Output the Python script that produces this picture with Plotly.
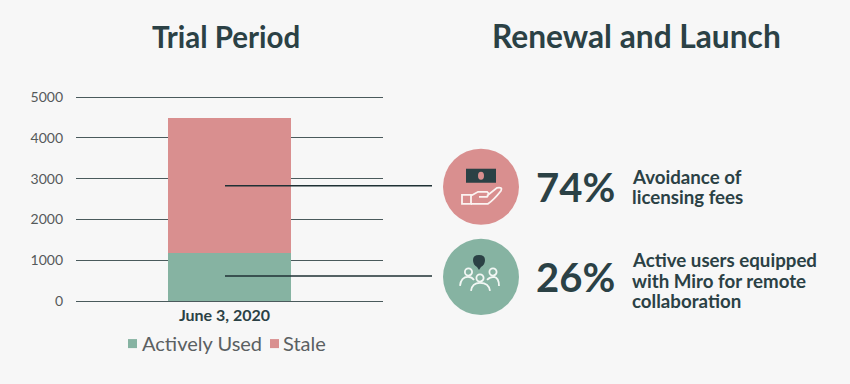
import plotly.graph_objects as go

categories = ["<b>June 3, 2020</b>"]
actively_used = [1180]
stale = [3300]
tick_values = [0, 1000, 2000, 3000, 4000, 5000]
AXIS_TOP = 5100

W, H = 850, 384
L, R, B = 76, 383, 301
T = B - 203.5 * AXIS_TOP / 5000
DARK = "#2b4145"
GREEN = "#86b3a2"
RED = "#d98f8f"
BG = "#f7f7f7"
FONT = "Lato"

def px(x):
    return (x - L) / (R - L)

def py(y):
    return (B - y) / (B - T)

def path(cmds):
    out = []
    for c in cmds:
        if len(c) == 1:
            out.append(c[0])
        else:
            vals = list(c[1:])
            pts = []
            for i in range(0, len(vals), 2):
                pts.append(f"{px(vals[i]):.5f},{py(vals[i + 1]):.5f}")
            out.append(c[0] + " ".join(pts))
    return " ".join(out)

shapes = []

def add(kind, x0, y0, x1, y1, fill=None, line=None, width=0):
    shapes.append(dict(type=kind, xref="paper", yref="paper", layer="above",
                       x0=px(x0), x1=px(x1), y0=py(y0), y1=py(y1),
                       fillcolor=fill, line=dict(color=line, width=width)))

def add_path(cmds, fill=None, line=None, width=1.8):
    shapes.append(dict(type="path", xref="paper", yref="paper", layer="above",
                       path=path(cmds), fillcolor=fill or "rgba(0,0,0,0)",
                       line=dict(color=line or "rgba(0,0,0,0)", width=width)))

# leader lines
add("line", 225, 186, 432, 186, line="#1f3135", width=1.5)
add("line", 225, 276, 432, 276, line="#1f3135", width=1.5)

# circles
add("circle", 443, 149, 519, 225, fill=RED)
add("circle", 443, 239, 519, 315, fill=GREEN)

# banknote + hand icon
add("rect", 466, 169, 496, 183, fill=DARK)
add("circle", 478, 172, 484, 180, fill=RED)
WHITE = "#fbf4f2"
add("rect", 462, 195, 471, 204, line=WHITE, width=1.8)
add_path([("M", 471, 196), ("L", 478, 192), ("L", 487, 192), ("Q", 490, 194, 487, 197),
          ("L", 479, 197), ("M", 487, 196), ("L", 497, 188), ("Q", 503, 187, 501, 191),
          ("Q", 494, 200, 488, 204), ("L", 471, 204)], line=WHITE)

# people icon
add_path([("M", 473, 260), ("Q", 473, 255, 479, 255), ("Q", 485, 255, 485, 260),
          ("Q", 485, 265, 481, 267), ("L", 479, 270), ("L", 477, 267),
          ("Q", 473, 265, 473, 260), ("Z",)], fill=DARK)
WL = "#f2f7f4"
for cx, cy, r in [(468.5, 272, 3.6), (480, 278, 3.6), (493, 272, 3.6)]:
    add("circle", cx - r, cy - r, cx + r, cy + r, line=WL, width=1.8)
add_path([("M", 460, 286), ("Q", 461, 277, 468, 277), ("Q", 472, 277, 474, 280)], line=WL)
add_path([("M", 487, 280), ("Q", 490, 277, 494, 277), ("Q", 499, 278, 499, 286)], line=WL)
add_path([("M", 471, 291), ("Q", 472, 283, 480, 283), ("Q", 489, 283, 490, 291)], line=WL)

# legend swatches
add("rect", 128, 339, 137, 348, fill=GREEN)
add("rect", 270, 339, 279, 348, fill=RED)

def note(x, y, text, size, color=DARK, anchor="center", bold=True):
    return dict(xref="paper", yref="paper", x=px(x), y=py(y), text=f"<b>{text}</b>" if bold else text,
                showarrow=False, xanchor=anchor, yanchor="middle",
                font=dict(family=FONT, size=size, color=color))

annotations = [
    note(226, 37, "Trial Period", 29.5),
    note(636, 37, "Renewal and Launch", 31.7),
    note(575, 187, "74%", 40),
    note(575, 277, "26%", 40),
    note(630, 177, "Avoidance of", 18.7, anchor="left"),
    note(630, 197, "licensing fees", 18.7, anchor="left"),
    note(630, 260, "Active users equipped", 18.7, anchor="left"),
    note(630, 281, "with Miro for remote", 18.7, anchor="left"),
    note(630, 301, "collaboration", 18.7, anchor="left"),
    note(140, 343, "Actively Used", 20, color="#5a6062", anchor="left", bold=False),
    note(281, 343, "Stale", 20, color="#5a6062", anchor="left", bold=False),
]

fig = go.Figure()
fig.add_bar(name="Actively Used", x=categories, y=actively_used, marker_color=GREEN, marker_line_width=0)
fig.add_bar(name="Stale", x=categories, y=stale, marker_color=RED, marker_line_width=0)

fig.update_layout(
    width=W, height=H, autosize=False,
    margin=dict(l=L, r=W - R, t=T, b=H - B, pad=0),
    paper_bgcolor=BG, plot_bgcolor=BG,
    barmode="stack", bargap=0.6, showlegend=False,
    font=dict(family=FONT, color="#4a4f50"),
    shapes=shapes,
    annotations=annotations,
)
fig.update_yaxes(range=[0, AXIS_TOP], tickvals=tick_values, showgrid=True, gridcolor="#4a5a5c", gridwidth=1,
                 zeroline=False, showline=False, ticks="", ticklabelstandoff=12,
                 tickfont=dict(size=14, color="#55595a", family=FONT))
fig.update_xaxes(showline=True, linecolor="#4a5a5c", linewidth=1, ticks="", ticklabelstandoff=0,
                 ticklabelshift=-5, tickfont=dict(size=16, color=DARK, family=FONT))
fig.write_html("out.html", config={"displayModeBar": False},
               post_script="document.body.style.margin='0';document.documentElement.style.background='#f7f7f7';document.body.style.overflow='hidden';")
